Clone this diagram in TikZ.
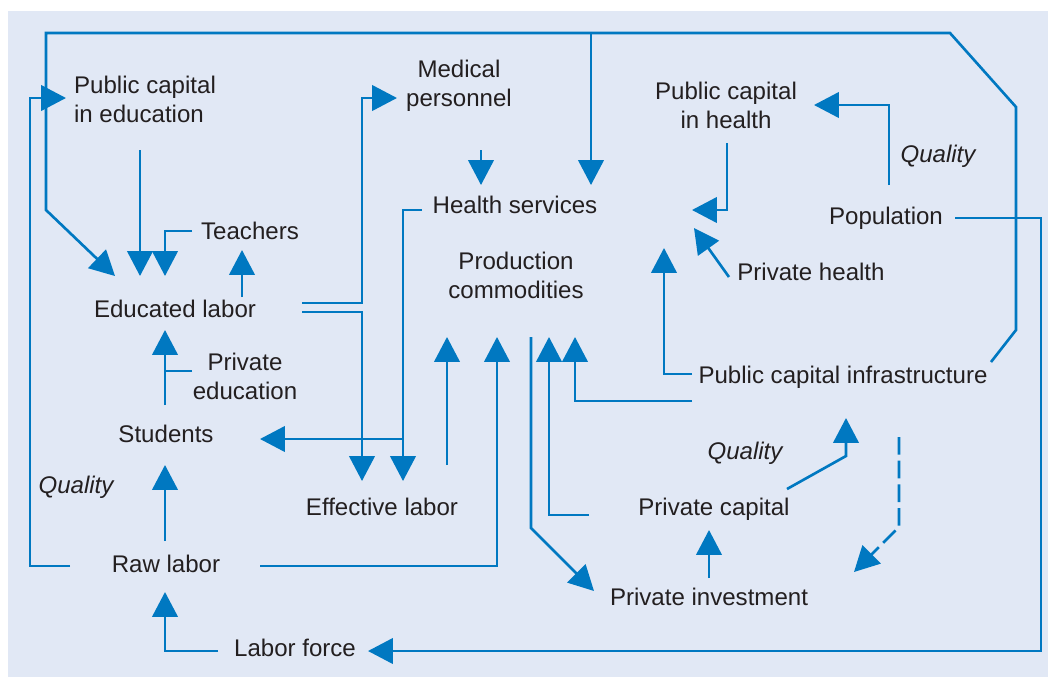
\documentclass[tikz,border=0pt]{standalone}
\usepackage{fontspec}
\setmainfont{Liberation Sans}
\usetikzlibrary{arrows.meta,calc}
\definecolor{linkblue}{HTML}{0078C1}
\definecolor{panelblue}{HTML}{E1E8F5}
\definecolor{inkgray}{HTML}{231F20}
\begin{document}
\begin{tikzpicture}[x=0.02cm,y=-0.02cm,
    txt/.style={text=inkgray,inner sep=0pt,align=center,font=\fontsize{13.7}{16.5}\selectfont},
    qual/.style={txt,font=\fontsize{13.7}{16.5}\selectfont\itshape},
    plain/.style={draw=linkblue,line width=1.5pt},
    link/.style={plain,-{Triangle[length=14.2pt,width=14.5pt]}}]
    \useasboundingbox (0,0) rectangle (1048,677);
    \fill[panelblue] (8,11) rectangle (1048,677);

    % education side
    \node[txt,align=left] (pced) at (145,99) {Public capital\\in education};
    \node[txt] (teach) at (250,231) {Teachers};
    \node[txt] (edu) at (175,309) {Educated labor};
    \node[txt] (priedu) at (245,376) {Private\\education};
    \node[txt] (stud) at (166,434) {Students};
    \node[txt] (raw) at (166,564) {Raw labor};
    \node[txt] (lab) at (295,648) {Labor force};
    \node[txt] (eff) at (382,507) {Effective labor};
    \node[qual] (q1) at (76,487) {Quality};

    % health and production
    \node[txt] (med) at (459,86) {Medical\\personnel};
    \node[txt] (health) at (515,205) {Health services};
    \node[txt] (prod) at (516,275) {Production\\commodities};
    \node[txt] (pch) at (726,105) {Public capital\\in health};
    \node[txt] (pop) at (886,218) {Population};
    \node[txt] (prih) at (811,272) {Private health};
    \node[qual] (q2) at (938,156) {Quality};
    \node[txt] (pci) at (843,377) {Public capital infrastructure};
    \node[txt] (pcap) at (714,509) {Private capital};
    \node[txt] (pinv) at (709,597) {Private investment};
    \node[qual] (q3) at (745,453) {Quality};

    % big loop over the top
    \draw[link] ($(pci)+(148,-15)$) -- (1016,330) -- (1016,107) -- (950,33) -- (46,33) -- (46,210) -- ($(edu)+(-60,-33)$);
    \draw[link] ($(health)+(76,-172)$) -- ($(health)+(76,-20)$);

    \draw[link] ($(raw)+(-96,2)$) -- ++(-40,0) |- ($(pced)+(-79,-1)$);
    \draw[link] ($(pced)+(-5,51)$) -- ($(edu)+(-35,-33)$);
    \draw[link] ($(teach)+(-58,0)$) -| ($(edu)+(-10,-33)$);
    \draw[link] ($(edu)+(67,-12)$) -- ($(teach)+(-8,19)$);
    \draw[link] ($(stud)+(-1,-29)$) -- ($(edu)+(-10,21)$);
    \draw[plain] ($(priedu)+(-53,-5)$) -- ++(-27,0);
    \draw[link] ($(raw)+(-1,-23)$) -- ($(stud)+(-1,31)$);
    \draw[link] ($(lab)+(-77,3)$) -| ($(raw)+(-1,28)$);

    \draw[link] ($(edu)+(127,-6)$) -- ++(60,0) |- ($(med)+(-62,12)$);
    \draw[link] ($(edu)+(127,3)$) -| ($(eff)+(-20,-26)$);
    \draw[link] ($(health)+(-93,5)$) -| ($(eff)+(21,-26)$);
    \draw[link] ($(eff)+(21,-68)$) -- ($(stud)+(94,5)$);
    \draw[link] ($(med)+(22,64)$) -- ($(health)+(-34,-20)$);

    % into and out of production
    \draw[link] ($(eff)+(65,-42)$) -- ($(prod)+(-69,62)$);
    \draw[link] ($(raw)+(94,2)$) -| ($(prod)+(-19,62)$);
    \draw[link] ($(prod)+(15,62)$) -- ++(0,191) -- ($(pinv)+(-115,-6)$);
    \draw[link] ($(pcap)+(-125,6)$) -| ($(prod)+(33,62)$);
    \draw[link] ($(pci)+(-151,24)$) -| ($(prod)+(59,62)$);

    % health capital
    \draw[link] ($(pci)+(-151,-3)$) -| ($(pch)+(-62,143)$);
    \draw[link] ($(pch)+(1,38)$) -- ++(0,67) -- ++(-35,0);
    \draw[link] ($(prih)+(-82,5)$) -- ++(-35,-49);
    \draw[link] ($(pop)+(3,-33)$) |- ($(pch)+(88,0)$);
    \draw[link] ($(pop)+(69,0)$) -- ++(86,0) |- ($(lab)+(73,3)$);

    % private capital
    \draw[link] ($(pinv)+(0,-19)$) -- ($(pcap)+(-5,21)$);
    \draw[link] ($(pcap)+(73,-20)$) -- ++(59,-33) -- ($(pci)+(3,41)$);
    \draw[link,dash pattern=on 10pt off 3.5pt] ($(pci)+(56,60)$) -- ++(0,90) -- ($(pinv)+(145,-25)$);
\end{tikzpicture}
\end{document}
